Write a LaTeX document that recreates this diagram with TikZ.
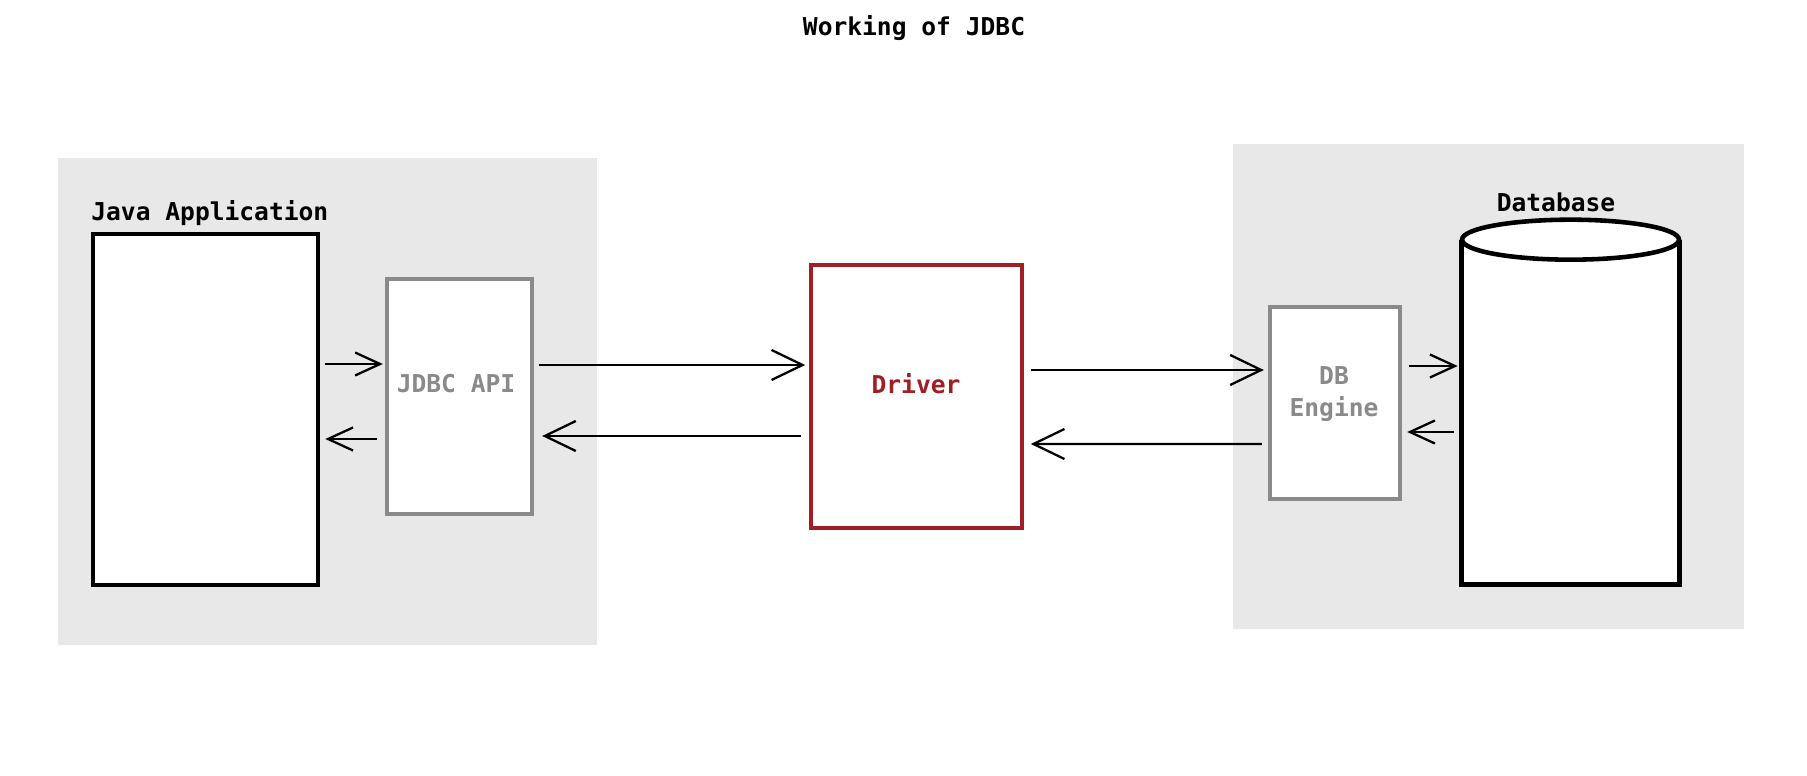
\documentclass[tikz,border=0pt]{standalone}
\usepackage{fontspec}
\setmainfont{DejaVu Sans Mono}
\usetikzlibrary{arrows.meta,calc}
\definecolor{panelgray}{HTML}{E8E8E8}
\definecolor{boxgray}{HTML}{8A8A8A}
\definecolor{drvred}{HTML}{A01E24}
\tikzset{
  lbl/.style={font=\fontsize{14}{17}\selectfont\bfseries, inner sep=0pt},
  panel/.style={fill=panelgray, draw=none},
  blackbox/.style={draw=black, fill=white, line width=2.6pt, inner sep=0pt},
  graybox/.style={draw=boxgray, fill=white, line width=2.5pt, inner sep=0pt},
  redbox/.style={draw=drvred, fill=white, line width=2.1pt, inner sep=0pt},
  smallarr/.style={line width=1.3pt, -{Straight Barb[length=0.5cm,width=0.46cm]}},
  bigarr/.style={line width=1.3pt, -{Straight Barb[length=0.62cm,width=0.6cm]}},
}
\begin{document}
\begin{tikzpicture}[x=0.02cm,y=-0.02cm]
\useasboundingbox (0,0) rectangle (1807,776);
\fill[white] (0,0) rectangle (1807,776);
% panels
\path[panel] (58,158) rectangle (597,645);
\path[panel] (1233,144) rectangle (1744,629);
% title
\node[lbl] (title) at (914,28) {Working of JDBC};
% java application
\node[lbl, anchor=west] (javalbl) at (91,213) {Java Application};
\node[blackbox, minimum width=4.5cm, minimum height=7.02cm] (java) at (205.5,409.5) {};
% JDBC API
\node[graybox, minimum width=2.9cm, minimum height=4.7cm] (jdbc) at (459.5,396.5) {};
\node[lbl, text=boxgray] (jdbctxt) at (456,384) {JDBC API};
% Driver
\node[redbox, minimum width=4.22cm, minimum height=5.26cm] (driver) at (916.5,396.5) {};
\node[lbl, text=drvred] (drvtxt) at (916,384) {Driver};
% DB Engine
\node[graybox, minimum width=2.6cm, minimum height=3.84cm] (dbe) at (1335,403) {};
\node[lbl, text=boxgray, align=center] (dbetxt) at (1334,394) {DB\\[1.5pt]Engine};
% Database cylinder
\node[lbl] (dblbl) at (1556,202) {Database};
\node[minimum width=4.34cm, minimum height=6.88cm, inner sep=0pt] (db) at (1570.5,412) {};
\draw[line width=2.6pt, fill=white] (db.west |- 0,240) -- (db.south west) -- (db.south east) -- (db.east |- 0,240);
\draw[line width=2.6pt, fill=white] (db.north) ellipse [x radius=2.17cm, y radius=0.4cm];
% arrows Java <-> JDBC
\draw[smallarr] ($(java.east)+(5,-45.5)$) -- ($(jdbc.west)+(-2,-32.5)$);
\draw[smallarr] ($(jdbc.west)+(-8,42.5)$) -- ($(java.east)+(5,29.5)$);
% arrows JDBC <-> Driver
\draw[bigarr] ($(jdbc.east)+(5,-31.5)$) -- ($(driver.west)+(-4,-31.5)$);
\draw[bigarr] ($(driver.west)+(-8,39.5)$) -- ($(jdbc.east)+(8,39.5)$);
% arrows Driver <-> DB Engine
\draw[bigarr] ($(driver.east)+(7,-26.5)$) -- ($(dbe.west)+(-4,-33)$);
\draw[bigarr] ($(dbe.west)+(-6,41)$) -- ($(driver.east)+(7,47.5)$);
% arrows DB Engine <-> Database
\draw[smallarr] ($(dbe.east)+(7,-37)$) -- ($(db.west)+(-4,-46)$);
\draw[smallarr] ($(db.west)+(-8,20)$) -- ($(dbe.east)+(5,29)$);
\end{tikzpicture}
\end{document}
